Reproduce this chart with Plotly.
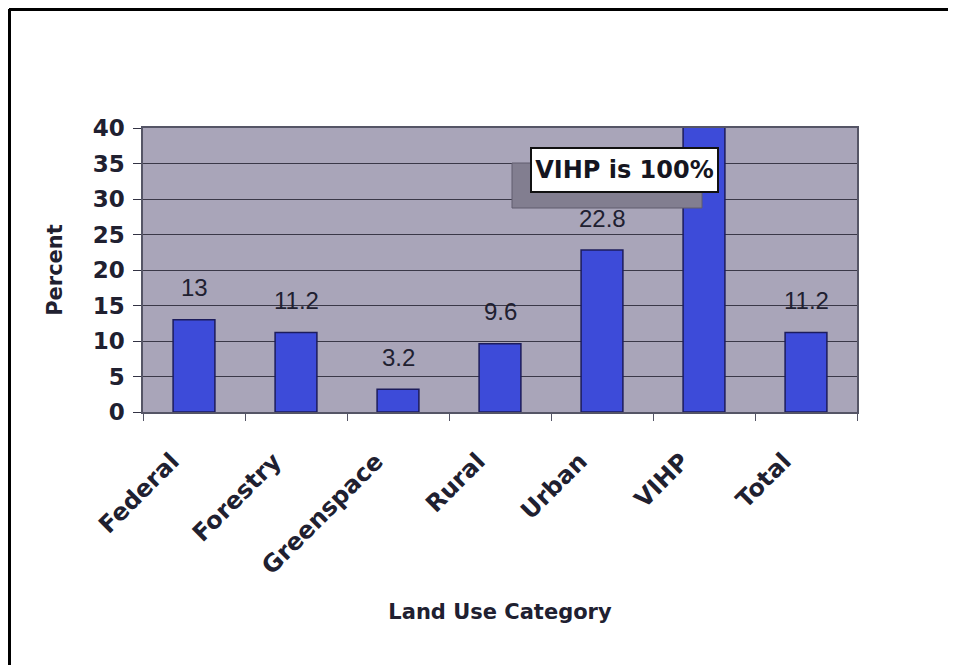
import plotly.graph_objects as go

categories = ["Federal", "Forestry", "Greenspace", "Rural", "Urban", "VIHP", "Total"]
percent = [13, 11.2, 3.2, 9.6, 22.8, 100, 11.2]
value_labels = ["13", "11.2", "3.2", "9.6", "22.8", "", "11.2"]
y_ticks = [0, 5, 10, 15, 20, 25, 30, 35, 40]
note_text = "VIHP is 100%"

FONT = "Liberation Sans, Arial, sans-serif"
BOLD = "DejaVu Sans, Verdana, sans-serif"
OFF = 8  # page body margin
W, H = 948, 657
L, R, T, B = 135, 99, 120, 253
pw, ph = W - L - R, H - T - B

def px_x(px):
    return (px - OFF - L) / pw

def px_y(py):
    return (H - B - (py - OFF)) / ph

fig = go.Figure()
fig.add_trace(go.Bar(
    x=categories, y=percent,
    marker=dict(color="#3d4bd9", line=dict(color="#1c1c5c", width=1.5)),
    width=0.41,
    showlegend=False,
))

for c, v, t in zip(categories, percent, value_labels):
    if t:
        fig.add_annotation(x=c, y=v, text=t, showarrow=False, yshift=32,
                           font=dict(family=FONT, size=24, color="#202030"))

# shadow of the note box
fig.add_shape(type="rect", xref="paper", yref="paper",
              x0=px_x(512), x1=px_x(702), y0=px_y(208), y1=px_y(163),
              fillcolor="#827e90", line=dict(color="#615d6e", width=1), layer="above")
fig.add_annotation(xref="paper", yref="paper", x=px_x(624.5), y=px_y(170),
                   xanchor="center", yanchor="middle",
                   text=note_text, showarrow=False,
                   font=dict(family=BOLD, size=24, color="#151520", weight="bold"),
                   bgcolor="white", bordercolor="#111111", borderwidth=2, borderpad=1,
                   width=183, height=40)

# page frame lines (top and left)
fig.add_shape(type="line", xref="paper", yref="paper",
              x0=px_x(9), x1=px_x(960), y0=px_y(9.5), y1=px_y(9.5),
              line=dict(color="black", width=3))
fig.add_shape(type="line", xref="paper", yref="paper",
              x0=px_x(9.5), x1=px_x(9.5), y0=px_y(9), y1=px_y(670),
              line=dict(color="black", width=3))

fig.update_layout(
    width=W, height=H,
    margin=dict(l=L, r=R, t=T, b=B),
    paper_bgcolor="white",
    plot_bgcolor="#a9a5b9",
    bargap=0.59,
)
fig.update_xaxes(
    tickangle=-45,
    tickfont=dict(family=BOLD, size=24, color="#202030", weight="bold"),
    ticks="outside", tickson="boundaries", ticklen=7, tickcolor="#555566",
    ticklabelstandoff=24, ticklabelshift=-22,
    showline=True, linecolor="#555566", linewidth=1.5, mirror=True,
    title=dict(text="Land Use Category", standoff=25,
               font=dict(family=BOLD, size=21, color="#202030", weight="bold")),
)
fig.update_yaxes(
    range=[0, 40], tickvals=y_ticks,
    tickfont=dict(family=BOLD, size=23, color="#202030", weight="bold"),
    ticks="outside", ticklen=8, tickcolor="#333344",
    ticklabelstandoff=4,
    showgrid=True, gridcolor="#3a3848", gridwidth=1,
    showline=True, linecolor="#555566", linewidth=1.5, mirror=True,
    zeroline=False,
    title=dict(text="Percent", standoff=24,
               font=dict(family=BOLD, size=21, color="#202030", weight="bold")),
)

fig.write_html("out.html")
